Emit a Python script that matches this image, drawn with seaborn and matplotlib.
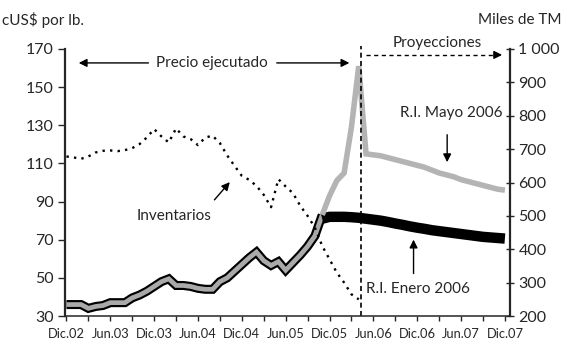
# Precio del zinc e inventarios: histórico y proyecciones (R.I. Enero / Mayo 2006)
import seaborn as sns
import matplotlib.pyplot as plt
from matplotlib.ticker import FixedLocator

# Datos (meses contados desde Dic.02 = 0)
meses_hist = list(range(0, 36))
precio_hist = [36, 36, 36, 34, 35, 35.5, 37, 37, 37, 39.5, 41, 43,
               45.5, 48, 49.5, 46, 46, 45.5, 44.5, 44, 44, 48, 50, 53.5,
               57, 60.5, 63.5, 59, 56.5, 58.5, 54, 58, 62, 66.5, 72, 83]

meses_proy = list(range(35, 61))
precio_mayo = [83, 93, 101, 105, 129, 161, 115, 114.5, 114, 113, 112, 111,
               110, 109, 108, 106.5, 105, 104, 103, 101.5, 100.5, 99.5,
               98.5, 97.5, 96.5, 96]
precio_enero = [81, 82, 82, 82, 81.8, 81.5, 81, 80.5, 80, 79.3, 78.5, 77.8,
                77, 76.3, 75.7, 75, 74.5, 74, 73.5, 73, 72.5, 72, 71.5,
                71.2, 70.9, 70.6]

meses_inv = list(range(0, 41))
inventarios = [678, 675, 671, 678, 690, 695, 696, 694, 697, 703, 715, 735,
               760, 738, 720, 762, 738, 730, 712, 735, 740, 718, 681, 650,
               620, 608, 590, 563, 526, 610, 588, 568, 530, 500, 465, 410,
               370, 330, 300, 265, 250]

x_ticks = list(range(0, 61, 6))
x_minor = list(range(3, 61, 6))
x_labels = ['Dic.02', 'Jun.03', 'Dic.03', 'Jun.04', 'Dic.04', 'Jun.05',
            'Dic.05', 'Jun.06', 'Dic.06', 'Jun.07', 'Dic.07']
precio_ticks = [30, 50, 70, 90, 110, 130, 150, 170]
inv_ticks = [200, 300, 400, 500, 600, 700, 800, 900, 1000]
inv_labels = ['200', '300', '400', '500', '600', '700', '800', '900', '1 000']
inicio_proy = 40.25

sns.set_style('ticks')
plt.rcParams['font.family'] = ['Lato', 'DejaVu Sans']
fs = 11

fig = plt.figure(figsize=(5.63, 3.45), dpi=100)
ax = fig.add_axes([65 / 563, 1 - 316 / 345, 445 / 563, 267 / 345])
ax2 = ax.twinx()

# Precio ejecutado: banda gris con borde negro
sns.lineplot(x=meses_hist, y=precio_hist, ax=ax, color='black', lw=6.5,
             solid_joinstyle='miter', solid_capstyle='butt')
sns.lineplot(x=meses_hist, y=precio_hist, ax=ax, color='#a9a9a9', lw=3.4,
             solid_joinstyle='miter', solid_capstyle='butt')
# Proyecciones
sns.lineplot(x=meses_proy, y=precio_enero, ax=ax, color='black', lw=7.5,
             solid_capstyle='butt')
sns.lineplot(x=meses_proy, y=precio_mayo, ax=ax, color='#b4b4b4', lw=4,
             solid_joinstyle='miter', solid_capstyle='butt')

# Inventarios (eje derecho)
sns.lineplot(x=meses_inv, y=inventarios, ax=ax2, color='black', lw=1.7,
             dashes=False, linestyle=(0, (1, 2.2)))

ax.axvline(inicio_proy, ymin=0, ymax=1.01, color='black', lw=1.2,
           linestyle=(0, (3, 2)), clip_on=False)

# Ejes
ax.set_xlim(-0.2, 60.7)
ax.set_ylim(30, 170)
ax2.set_ylim(200, 1000)
ax.set_xticks(x_ticks)
ax.set_xticklabels(x_labels, fontsize=9.3)
ax.xaxis.set_minor_locator(FixedLocator(x_minor))
ax.set_yticks(precio_ticks)
ax.set_yticklabels([str(t) for t in precio_ticks], fontsize=fs + 0.5)
ax2.set_yticks(inv_ticks)
ax2.set_yticklabels(inv_labels, fontsize=fs + 0.5)

ax.tick_params(axis='x', which='both', direction='out', length=3.5, width=1, pad=5)
ax.tick_params(axis='y', direction='out', length=5, width=1, pad=3)
ax2.tick_params(axis='y', direction='inout', length=6, width=1, pad=3)

for s in ['top', 'right']:
    ax.spines[s].set_visible(False)
for s in ['top', 'left', 'bottom']:
    ax2.spines[s].set_visible(False)
ax.spines['left'].set_linewidth(1.6)
ax.spines['bottom'].set_linewidth(1.1)
ax2.spines['right'].set_linewidth(1.6)
ax.set_xlabel('')
ax.set_ylabel('')
ax2.set_ylabel('')

# Títulos de ejes
fig.text(2 / 563, 1 - 20 / 345, 'cUS$ por lb.', fontsize=fs, ha='left', va='center')
fig.text(561 / 563, 1 - 20 / 345, 'Miles de TM', fontsize=fs, ha='right', va='center')

# Anotaciones
head = dict(arrowstyle='-|>', color='black', lw=1, mutation_scale=12)
ax.text(19.9, 162.8, 'Precio ejecutado', fontsize=fs, ha='center', va='center')
ax.annotate('', xy=(1.3, 162.7), xytext=(11.6, 162.7), arrowprops=head)
ax.annotate('', xy=(39.1, 162.7), xytext=(28.4, 162.7), arrowprops=head)

ax.text(50.7, 173.0, 'Proyecciones', fontsize=fs, ha='center', va='center', clip_on=False)
ax.plot([41.0, 58.8], [166.9, 166.9], color='black', lw=1, linestyle=(0, (3, 2.5)),
        clip_on=False)
ax.annotate('', xy=(60.0, 166.9), xytext=(58.6, 166.9), arrowprops=head,
            annotation_clip=False)

ax.text(14.7, 82.4, 'Inventarios', fontsize=fs, ha='center', va='center')
ax.annotate('', xy=(22.6, 101.3), xytext=(20.0, 89.8), arrowprops=head)

ax.text(52.6, 136.6, 'R.I. Mayo 2006', fontsize=fs, ha='center', va='center')
ax.annotate('', xy=(52.1, 109.2), xytext=(52.1, 126.5), arrowprops=head)

ax.text(48.1, 44.2, 'R.I. Enero 2006', fontsize=fs, ha='center', va='center')
ax.annotate('', xy=(47.5, 71.5), xytext=(47.5, 50.8), arrowprops=head)

fig.savefig('out.png', dpi=100)
